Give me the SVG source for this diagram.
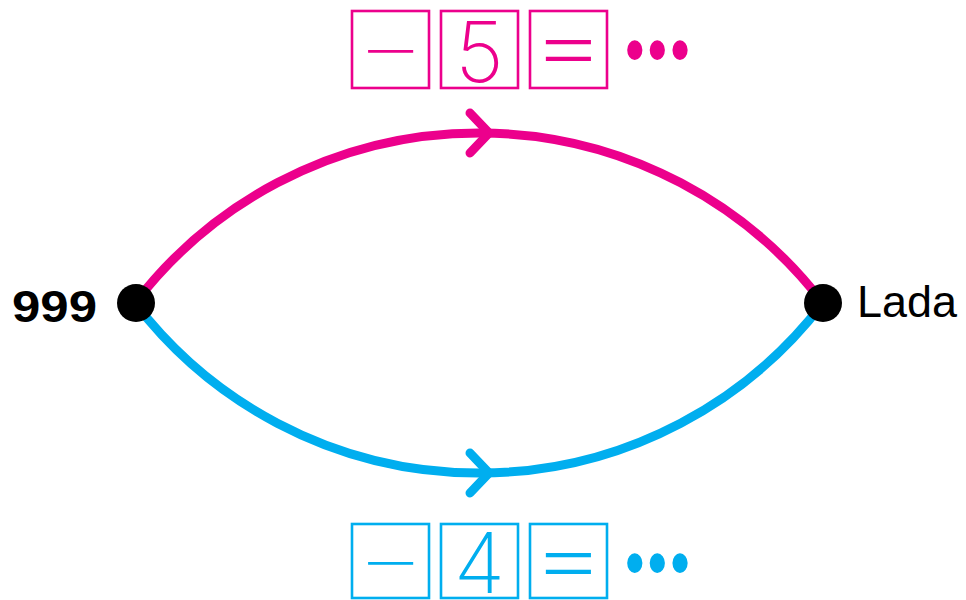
<svg xmlns="http://www.w3.org/2000/svg" width="966" height="600" viewBox="0 0 966 600">
  <style>
    .edge { fill: none; stroke-width: 9; }
    .head { fill: none; stroke-width: 9; stroke-linecap: round; stroke-linejoin: miter; }
    .mag { stroke: #EC008C; }
    .cya { stroke: #00AEEF; }
    .box { fill: none; stroke-width: 2.6; }
    .digit { font-family: Inter, "Noto Sans", "Liberation Sans", sans-serif; font-weight: 200; font-size: 84px; text-anchor: middle; }
    .sign { font-family: "DejaVu Sans", "Liberation Sans", sans-serif; font-weight: 200; font-size: 72px; text-anchor: middle; }
    .dots { font-family: "Liberation Sans", Arial, sans-serif; font-size: 56px; letter-spacing: 3px; }
    .node { fill: #000; }
  </style>
  <defs>
    <polyline id="chevron" points="-19,-20 0,0 -19,20"/>
  </defs>

  <g id="connectors">
    <path class="edge mag" d="M 135 303 A 433 433 0 0 1 823 303"/>
    <path class="edge cya" d="M 135 303 A 433 433 0 0 0 823 303"/>
    <use href="#chevron" class="head mag" x="489" y="133"/>
    <use href="#chevron" class="head cya" x="489" y="473"/>
  </g>

  <g id="node-999">
    <circle class="node" cx="136" cy="303" r="19"/>
    <text x="12" y="322" font-family="'Liberation Sans', Arial, sans-serif" font-weight="bold" font-size="44" textLength="85" lengthAdjust="spacingAndGlyphs">999</text>
  </g>

  <g id="node-lada">
    <circle class="node" cx="823" cy="303" r="19"/>
    <text x="857" y="317" font-family="'Liberation Sans', Arial, sans-serif" font-size="44" textLength="100" lengthAdjust="spacingAndGlyphs">Lada</text>
  </g>

  <g id="label-top" fill="#EC008C">
    <rect class="box mag" x="352" y="11" width="77" height="77"/>
    <rect class="box mag" x="441" y="11" width="77" height="77"/>
    <rect class="box mag" x="530" y="11" width="77" height="77"/>
    <text class="sign" x="390.5" y="74">−</text>
    <text class="digit" x="479.5" y="82">5</text>
    <text class="sign" x="568.5" y="74" transform="translate(0,51.5) scale(1,1.45) translate(0,-51.5)">=</text>
    <text class="dots" x="625" y="68" transform="translate(0,48) scale(1,1.3) translate(0,-48)">•••</text>
  </g>

  <g id="label-bottom" fill="#00AEEF">
    <rect class="box cya" x="352" y="524" width="77" height="74"/>
    <rect class="box cya" x="441" y="524" width="77" height="74"/>
    <rect class="box cya" x="530" y="524" width="77" height="74"/>
    <text class="sign" x="390.5" y="586">−</text>
    <text class="digit" x="479.5" y="593">4</text>
    <text class="sign" x="568.5" y="586" transform="translate(0,562.5) scale(1,1.45) translate(0,-562.5)">=</text>
    <text class="dots" x="625" y="581" transform="translate(0,561) scale(1,1.3) translate(0,-561)">•••</text>
  </g>
</svg>
